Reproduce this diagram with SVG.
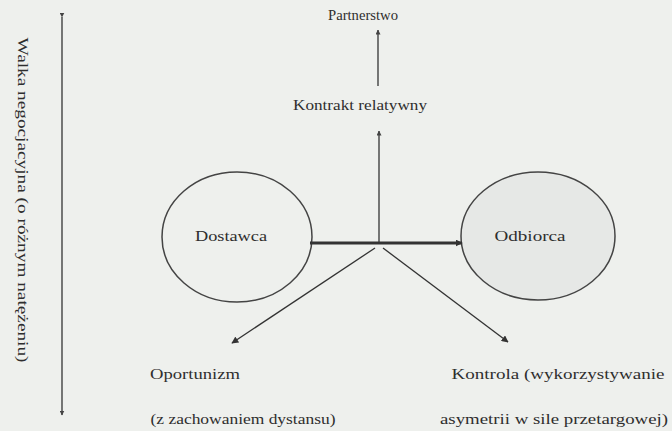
<svg xmlns="http://www.w3.org/2000/svg" width="672" height="431" viewBox="0 0 672 431">
<style>
.t{font-family:"Liberation Serif","Times New Roman",serif;fill:#2e2e2e;font-size:14px}
.ln{stroke:#333;stroke-width:1.3;fill:none}
.el{stroke:#444;stroke-width:1.5}
</style>
<defs>
<marker id="ah" viewBox="0 0 10 10" refX="9" refY="5" markerWidth="7" markerHeight="7" orient="auto" markerUnits="userSpaceOnUse">
<path d="M0,0 L10,5 L0,10 z" fill="#333"/>
</marker>
<marker id="ahs" viewBox="0 0 10 10" refX="9" refY="5" markerWidth="5" markerHeight="5" orient="auto" markerUnits="userSpaceOnUse">
<path d="M0,0 L10,5 L0,10 z" fill="#444"/>
</marker>
</defs>
<rect width="672" height="431" fill="#eef0ed"/>
<g id="axis">
<line class="ln" x1="62" y1="17" x2="62" y2="415" marker-start="url(#ahs)" marker-end="url(#ahs)"/>
<text class="t" transform="translate(18,200) rotate(90)" text-anchor="middle" font-size="12" textLength="325" lengthAdjust="spacingAndGlyphs">Walka negocjacyjna (o różnym natężeniu)</text>
</g>
<g id="dostawca">
<ellipse class="el" cx="237" cy="237" rx="75" ry="65" fill="#eef0ed"/>
<text class="t" x="231" y="241" text-anchor="middle" textLength="72" lengthAdjust="spacingAndGlyphs">Dostawca</text>
</g>
<g id="odbiorca">
<ellipse class="el" cx="538" cy="236" rx="77" ry="64" fill="#e6e8e6"/>
<text class="t" x="530" y="241" text-anchor="middle" textLength="71" lengthAdjust="spacingAndGlyphs">Odbiorca</text>
</g>
<g id="kontrakt">
<text class="t" x="360" y="110" text-anchor="middle" textLength="134" lengthAdjust="spacingAndGlyphs">Kontrakt relatywny</text>
</g>
<g id="partnerstwo">
<text class="t" x="363" y="20" text-anchor="middle" font-size="9" textLength="70" lengthAdjust="spacingAndGlyphs">Partnerstwo</text>
</g>
<g id="oportunizm">
<text class="t" x="195" y="379" text-anchor="middle" textLength="90" lengthAdjust="spacingAndGlyphs">Oportunizm</text>
<text class="t" x="243" y="424" text-anchor="middle" textLength="185" lengthAdjust="spacingAndGlyphs">(z zachowaniem dystansu)</text>
</g>
<g id="kontrola">
<text class="t" x="558" y="379" text-anchor="middle" textLength="213" lengthAdjust="spacingAndGlyphs">Kontrola (wykorzystywanie</text>
<text class="t" x="554" y="424" text-anchor="middle" textLength="228" lengthAdjust="spacingAndGlyphs">asymetrii w sile przetargowej)</text>
</g>
<g id="connectors">
<line x1="310" y1="243" x2="462" y2="243" stroke="#333" stroke-width="2.8" marker-end="url(#ah)"/>
<line class="ln" x1="379" y1="243" x2="379" y2="131" marker-end="url(#ahs)"/>
<line class="ln" x1="378" y1="86" x2="378" y2="30" marker-end="url(#ahs)"/>
<line class="ln" x1="375" y1="248" x2="232" y2="343" marker-end="url(#ah)"/>
<line class="ln" x1="383" y1="248" x2="508" y2="342" marker-end="url(#ah)"/>
</g>
</svg>
